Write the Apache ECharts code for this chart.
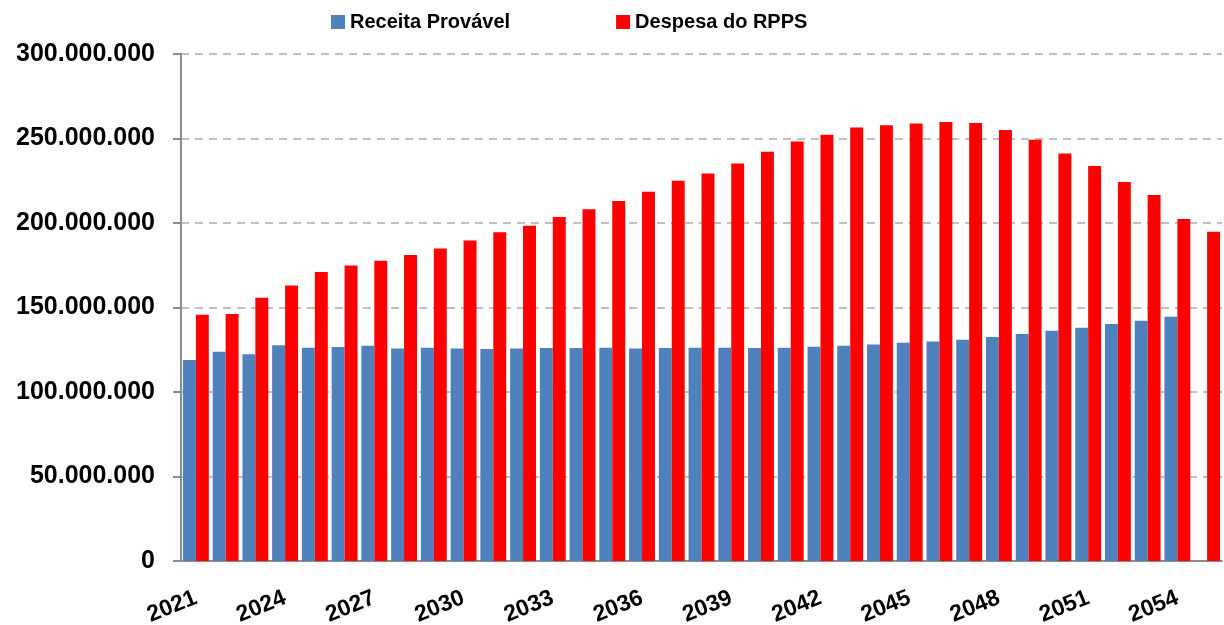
<!DOCTYPE html>
<html>
<head>
<meta charset="utf-8">
<script src="https://cdn.jsdelivr.net/npm/echarts@6/dist/echarts.min.js"></script>
<style>
  html, body { margin: 0; padding: 0; background: #fff; }
  #chart { width: 1224px; height: 625px; }
</style>
</head>
<body>
<div id="chart"></div>
<script>
// anos da projeção
const anos = [];
for (let a = 2021; a <= 2055; a++) anos.push(String(a));

// valores em milhões de R$
const receita = [
  119.0, 123.8, 122.4, 127.7, 126.2, 126.6, 127.3, 125.7, 126.2, 125.7,
  125.5, 125.7, 126.0, 126.0, 126.2, 125.7, 126.0, 126.2, 126.2, 126.0,
  126.2, 126.8, 127.3, 128.1, 129.1, 129.9, 130.9, 132.5, 134.3, 136.2,
  138.0, 140.2, 142.1, 144.5, null
];
const despesa = [
  145.7, 146.1, 155.7, 163.0, 171.0, 174.9, 177.6, 181.0, 184.9, 189.6,
  194.6, 198.3, 203.5, 208.2, 213.0, 218.5, 225.0, 229.3, 235.2, 242.1,
  248.2, 252.2, 256.5, 257.9, 258.9, 259.7, 259.1, 255.0, 249.2, 241.1,
  233.8, 224.2, 216.5, 202.3, 194.8
];

const emReais = (arr) => arr.map(v => v == null ? null : Math.round(v * 1e6));
const fmt = (v) => String(v).replace(/\B(?=(\d{3})+(?!\d))/g, '.');

const fonte = '"Liberation Sans", Arial, sans-serif';
const chart = echarts.init(document.getElementById('chart'));

chart.setOption({
  animation: false,
  textStyle: { fontFamily: fonte },
  legend: {
    top: 7,
    left: 326,
    itemWidth: 14,
    itemHeight: 14,
    itemGap: 106,
    icon: 'rect',
    textStyle: { fontSize: 20, fontWeight: 'bold', color: '#000', fontFamily: fonte }
  },
  grid: { left: 181, right: 2, top: 54, bottom: 64, outerBoundsMode: 'none' },
  xAxis: {
    type: 'category',
    data: anos,
    axisLine: { lineStyle: { color: '#8c8c8c', width: 2 } },
    axisTick: { interval: 0, length: 8, lineStyle: { color: '#8c8c8c', width: 2 } },
    axisLabel: {
      interval: 2,
      rotate: 22,
      margin: 36,
      fontSize: 23,
      fontWeight: 'bold',
      color: '#000',
      fontFamily: fonte
    }
  },
  yAxis: {
    type: 'value',
    min: 0,
    max: 300000000,
    interval: 50000000,
    axisLine: { show: true, lineStyle: { color: '#8c8c8c', width: 2 } },
    axisTick: { show: true, length: 8, lineStyle: { color: '#8c8c8c', width: 2 } },
    splitLine: { lineStyle: { color: '#c0c0c0', type: [8, 6], width: 2 } },
    axisLabel: {
      margin: 26,
      fontSize: 25,
      fontWeight: 'bold',
      color: '#000',
      fontFamily: fonte,
      formatter: fmt
    }
  },
  series: [
    {
      name: 'Receita Provável',
      type: 'bar',
      data: emReais(receita),
      itemStyle: { color: '#4f81bd' },
      barGap: '0%',
      barCategoryGap: '13%'
    },
    {
      name: 'Despesa do RPPS',
      type: 'bar',
      data: emReais(despesa),
      itemStyle: { color: '#ff0000' }
    }
  ]
});
</script>
</body>
</html>
